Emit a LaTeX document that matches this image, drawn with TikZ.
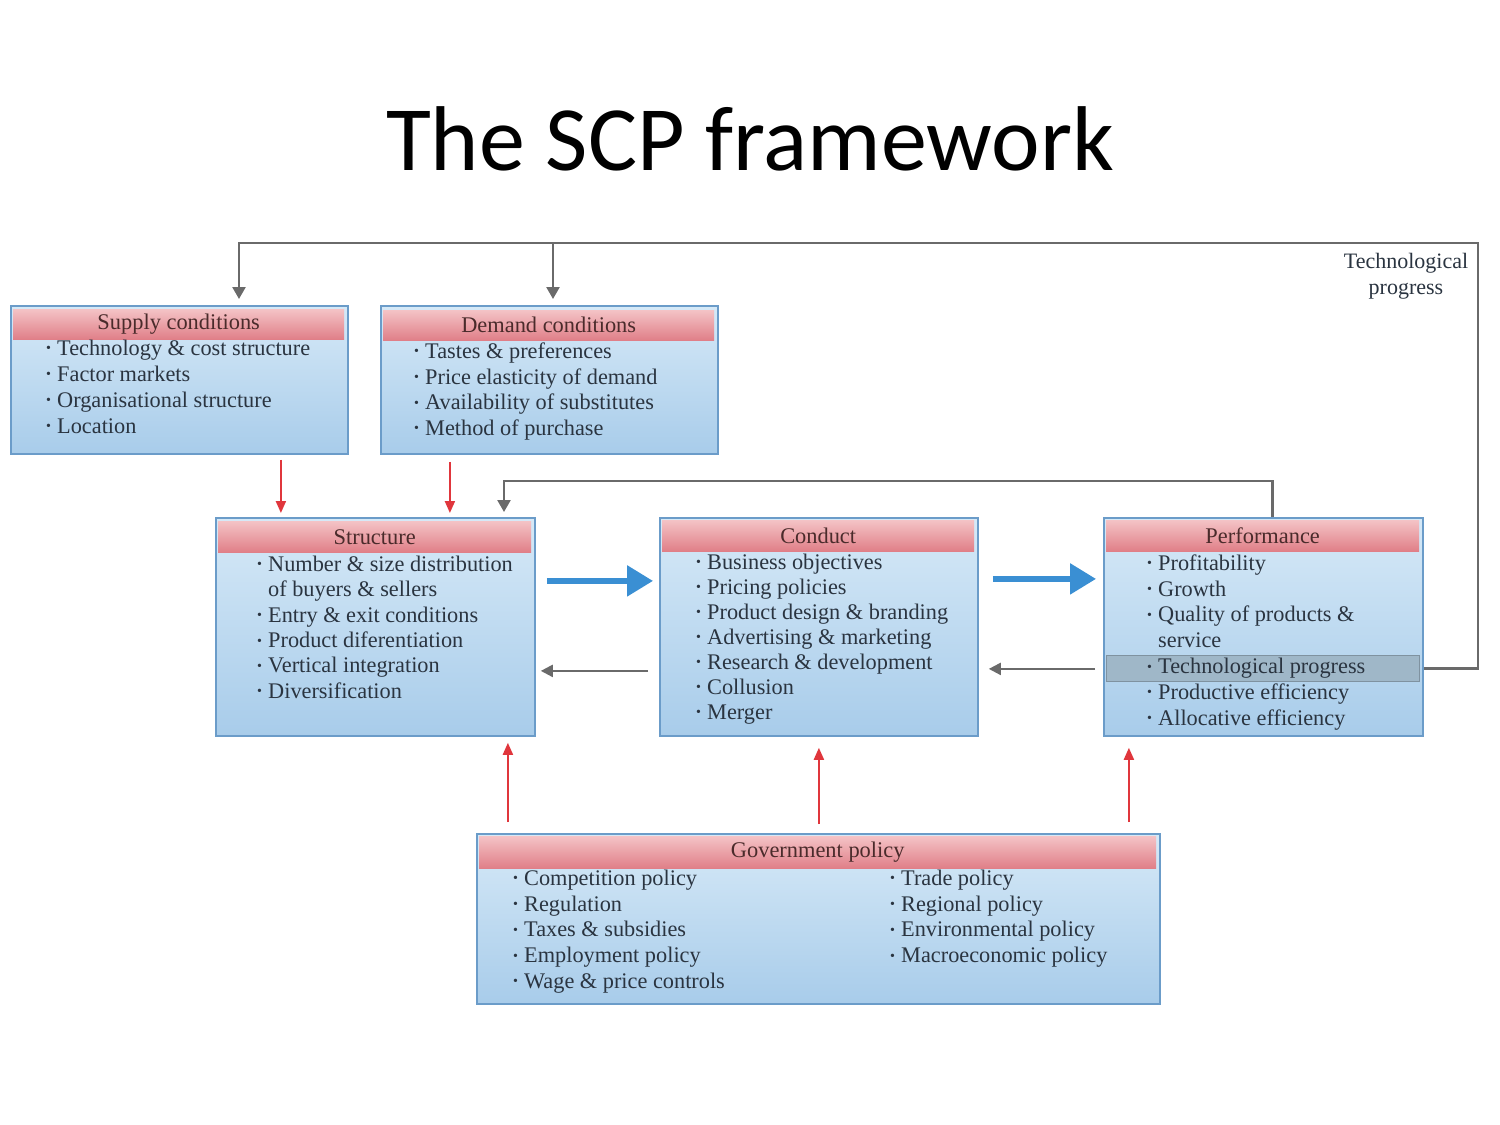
\documentclass[tikz,border=0pt]{standalone}
\usepackage{fontspec}
\setmainfont{Liberation Serif}
\newfontfamily\titlefont{Carlito}
\usetikzlibrary{arrows.meta,calc}
\definecolor{bluetop}{HTML}{D6E9F7}
\definecolor{bluebot}{HTML}{A8CCEA}
\definecolor{boxborder}{HTML}{6B9CC9}
\definecolor{redtop}{HTML}{F4C3C6}
\definecolor{redbot}{HTML}{E07F88}
\definecolor{txt}{HTML}{2A3440}
\definecolor{hdtxt}{HTML}{4A2B2B}
\definecolor{loopgray}{HTML}{6A6A6A}
\definecolor{arrred}{HTML}{E0363C}
\definecolor{arrblue}{HTML}{3A8FD3}
\definecolor{hilite}{HTML}{9FB7C8}
\newcommand{\itembul}{\makebox[11pt][l]{\fontsize{14}{14}\selectfont\raisebox{2.5pt}{•}}}
\newcommand{\itemnob}{\hspace*{11pt}}
\begin{document}
\begin{tikzpicture}[x=1pt,y=-1pt,
  bodybox/.style={draw=boxborder, line width=1.8pt, top color=bluetop, bottom color=bluebot, anchor=north west, inner sep=0pt},
  headbox/.style={top color=redtop, bottom color=redbot, anchor=north west, inner sep=0pt, text=hdtxt, font=\fontsize{22.4}{22.4}\selectfont},
  itemtxt/.style={anchor=mid west, inner sep=0pt, text=txt, font=\fontsize{22.3}{22.3}\selectfont},
  grayarr/.style={draw=loopgray, line width=2.4pt, -{Triangle[length=12pt,width=13pt]}},
  redarr/.style={draw=arrred, line width=2pt, -{Triangle[length=12pt,width=10pt]}},
  bluearr/.style={draw=arrblue, line width=5.5pt, -{Triangle[length=26pt,width=30pt]}},
  backarr/.style={draw=loopgray, line width=2.2pt, -{Triangle[length=12pt,width=12pt]}}
]
\useasboundingbox (0,0) rectangle (1500,1125);
\fill[white] (0,0) rectangle (1500,1125);

% title
\node[anchor=base, inner sep=0pt, font=\titlefont\fontsize{92}{92}\selectfont] (title) at (750,170) {The SCP framework};

% boxes
\node[bodybox, minimum width=337pt, minimum height=148pt] (sup) at (10,305) {};
\node[headbox, minimum width=331pt, minimum height=30pt] (suph) at (13,309) {Supply conditions};
\node[bodybox, minimum width=337pt, minimum height=148pt] (dem) at (380,305) {};
\node[headbox, minimum width=331pt, minimum height=30pt] (demh) at (383,310) {Demand conditions};
\node[bodybox, minimum width=319pt, minimum height=218pt] (str) at (215,517) {};
\node[headbox, minimum width=313pt, minimum height=31pt] (strh) at (218,521) {Structure};
\node[bodybox, minimum width=318pt, minimum height=218pt] (con) at (659,517) {};
\node[headbox, minimum width=312pt, minimum height=31pt] (conh) at (662,520) {Conduct};
\node[bodybox, minimum width=319pt, minimum height=218pt] (per) at (1103,517) {};
\node[headbox, minimum width=313pt, minimum height=31pt] (perh) at (1106,520) {Performance};
\node[bodybox, minimum width=683pt, minimum height=170pt] (gov) at (476,833) {};
\node[headbox, minimum width=677pt, minimum height=32pt] (govh) at (479,836) {Government policy};

% highlight band
\node[fill=hilite, draw=hilite!80!black, line width=0.6pt, anchor=north west, inner sep=0pt, minimum width=313pt, minimum height=26pt] (hl) at (1106,655) {};

% items
\foreach \t [count=\i] in {Technology \& cost structure, Factor markets, Organisational structure, Location}
  \node[itemtxt] (sup-\i) at (46,{353+26*(\i-1)}) {\itembul\t};
\foreach \t [count=\i] in {Tastes \& preferences, Price elasticity of demand, Availability of substitutes, Method of purchase}
  \node[itemtxt] (dem-\i) at (414,{356+25.7*(\i-1)}) {\itembul\t};
\foreach \t/\b [count=\i] in {Number \& size distribution/1, of buyers \& sellers/0, Entry \& exit conditions/1, Product diferentiation/1, Vertical integration/1, Diversification/1}
  \node[itemtxt] (str-\i) at (257,{569+25.4*(\i-1)}) {\ifnum\b=1 \itembul\else\itemnob\fi\t};
\foreach \t [count=\i] in {Business objectives, Pricing policies, Product design \& branding, Advertising \& marketing, Research \& development, Collusion, Merger}
  \node[itemtxt] (con-\i) at (696,{567+25*(\i-1)}) {\itembul\t};
\foreach \t/\b [count=\i] in {Profitability/1, Growth/1, Quality of products \&/1, service/0, Technological progress/1, Productive efficiency/1, Allocative efficiency/1}
  \node[itemtxt] (per-\i) at (1147,{568+25.8*(\i-1)}) {\ifnum\b=1 \itembul\else\itemnob\fi\t};
\foreach \t [count=\i] in {Competition policy, Regulation, Taxes \& subsidies, Employment policy, Wage \& price controls}
  \node[itemtxt] (govl-\i) at (513,{883+25.75*(\i-1)}) {\itembul\t};
\foreach \t [count=\i] in {Trade policy, Regional policy, Environmental policy, Macroeconomic policy}
  \node[itemtxt] (govr-\i) at (890,{883+25.75*(\i-1)}) {\itembul\t};

% technological progress loop
\node[align=center, inner sep=0pt, text=txt, font=\fontsize{22}{26}\selectfont] (techlab) at (1406,276) {Technological\\progress};
\coordinate (loopR) at (1478,243);
\coordinate (branch) at (553,243);
\coordinate (supIn) at (239,299);
\coordinate (demIn) at (553,299);
\draw[grayarr] (per.east |- hl) -| (loopR) -| (supIn);
\draw[grayarr] (branch) -- (demIn);

% performance feedback to structure
\coordinate (fbCorner) at (504,481);
\coordinate (strIn) at (504,512);
\draw[grayarr] ($(per.north)+(9,0)$) |- (fbCorner) -- (strIn);

% red arrows
\draw[redarr] ($(sup.south)+(101.5,5)$) -- ($(str.north)+(-94.5,-4)$);
\draw[redarr] ($(dem.south)+(-99.5,7)$) -- ($(str.north)+(74.5,-4)$);
\draw[redarr] ($(gov.north)+(-310.5,-11)$) -- ($(str.south)+(132.5,6)$);
\draw[redarr] ($(gov.north)+(0.5,-9)$) -- ($(con.south)+(0,11)$);
\draw[redarr] ($(gov.north)+(310.5,-11)$) -- ($(per.south)+(-134.5,11)$);

% blue forward arrows
\draw[bluearr] ($(str.east)+(11,-46)$) -- ($(con.west)+(-6,-46)$);
\draw[bluearr] ($(con.east)+(14,-48)$) -- ($(per.west)+(-7,-48)$);

% gray backward arrows
\draw[backarr] ($(con.west)+(-11,44)$) -- ($(str.east)+(5,44)$);
\draw[backarr] ($(per.west)+(-8,42)$) -- ($(con.east)+(10,42)$);
\end{tikzpicture}
\end{document}
